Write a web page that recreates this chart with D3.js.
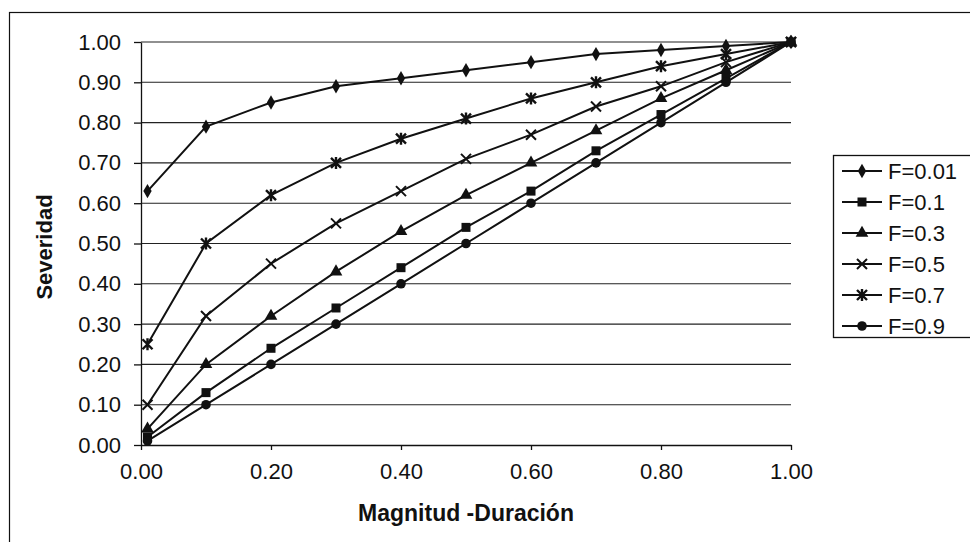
<!DOCTYPE html>
<html><head><meta charset="utf-8">
<script src="https://cdn.jsdelivr.net/npm/d3@7"></script>
<style>body{margin:0;background:#fff}svg{display:block}</style></head>
<body><svg id="c" width="970" height="542"></svg>
<script>
const xValues = [0.01,0.1,0.2,0.3,0.4,0.5,0.6,0.7,0.8,0.9,1.0];
const seriesNames = ["F=0.01","F=0.1","F=0.3","F=0.5","F=0.7","F=0.9"];
const sF001 = [0.63,0.79,0.85,0.89,0.91,0.93,0.95,0.97,0.98,0.99,1.00];
const sF01  = [0.02,0.13,0.24,0.34,0.44,0.54,0.63,0.73,0.82,0.91,1.00];
const sF03  = [0.04,0.20,0.32,0.43,0.53,0.62,0.70,0.78,0.86,0.93,1.00];
const sF05  = [0.10,0.32,0.45,0.55,0.63,0.71,0.77,0.84,0.89,0.95,1.00];
const sF07  = [0.25,0.50,0.62,0.70,0.76,0.81,0.86,0.90,0.94,0.97,1.00];
const sF09  = [0.01,0.10,0.20,0.30,0.40,0.50,0.60,0.70,0.80,0.90,1.00];
const seriesValues = [sF001,sF01,sF03,sF05,sF07,sF09];
const markerTypes = ["diamond","square","triangle","x","star","circle"];
const yTicks = [0,0.1,0.2,0.3,0.4,0.5,0.6,0.7,0.8,0.9,1.0];
const xTicks = [0,0.2,0.4,0.6,0.8,1.0];
const xTitle = "Magnitud -Duración";
const yTitle = "Severidad";

const svg = d3.select("#c");
const FONT = "Liberation Sans, Arial, sans-serif";
const INK = "#111";

// chart border
svg.append("rect").attr("x",9.5).attr("y",12.5).attr("width",1000).attr("height",600)
  .attr("fill","none").attr("stroke",INK).attr("stroke-width",1.2);

const x = d3.scaleLinear().domain([0,1]).range([141,791]);
const y = d3.scaleLinear().domain([0,1]).range([445,42]);

// gridlines
svg.append("g").selectAll("line").data(yTicks.filter(d=>d>0)).join("line")
  .attr("x1",x(0)).attr("x2",x(1)).attr("y1",d=>y(d)).attr("y2",d=>y(d))
  .attr("stroke","#222").attr("stroke-width",1.1);

// axes
const yAxis = svg.append("g").attr("transform",`translate(${x(0)},0)`)
  .call(d3.axisLeft(y).tickValues(yTicks).tickFormat(d3.format(".2f")).tickSize(7).tickSizeOuter(0).tickPadding(13));
const xAxis = svg.append("g").attr("transform",`translate(0,${y(0)})`)
  .call(d3.axisBottom(x).tickValues(xTicks).tickFormat(d3.format(".2f")).tickSize(5).tickSizeOuter(0).tickPadding(13));
[yAxis,xAxis].forEach(g=>{
  g.selectAll("path,line").attr("stroke",INK).attr("stroke-width",1.3);
  g.selectAll("text").attr("font-family",FONT).attr("font-size",22).attr("fill",INK);
});

// titles
svg.append("text").attr("x",(x(0)+x(1))/2).attr("y",521).attr("text-anchor","middle")
  .attr("font-family",FONT).attr("font-weight","bold").attr("font-size",23).attr("fill",INK).text(xTitle);
svg.append("text").attr("transform","translate(52,247) rotate(-90)").attr("text-anchor","middle")
  .attr("font-family",FONT).attr("font-weight","bold").attr("font-size",22).attr("fill",INK).text(yTitle);

function drawMarker(g, type, cx, cy){
  if(type==="diamond"){
    g.append("path").attr("d",d3.symbol(d3.symbolDiamond,60)()).attr("transform",`translate(${cx},${cy})`).attr("fill",INK);
  } else if(type==="square"){
    g.append("rect").attr("x",cx-4.5).attr("y",cy-4.5).attr("width",9).attr("height",9).attr("fill",INK);
  } else if(type==="triangle"){
    g.append("path").attr("d",d3.symbol(d3.symbolTriangle,70)()).attr("transform",`translate(${cx},${cy})`).attr("fill",INK);
  } else if(type==="x"){
    const s=5;
    g.append("path").attr("d",`M${cx-s},${cy-s}L${cx+s},${cy+s}M${cx-s},${cy+s}L${cx+s},${cy-s}`)
      .attr("stroke",INK).attr("stroke-width",2).attr("fill","none");
  } else if(type==="star"){
    const s=5;
    g.append("path").attr("d",`M${cx-s},${cy-s}L${cx+s},${cy+s}M${cx-s},${cy+s}L${cx+s},${cy-s}M${cx},${cy-s-1}L${cx},${cy+s+1}`)
      .attr("stroke",INK).attr("stroke-width",2.4).attr("fill","none");
  } else {
    g.append("circle").attr("cx",cx).attr("cy",cy).attr("r",4.8).attr("fill",INK);
  }
}

const line = d3.line().x(d=>x(d[0])).y(d=>y(d[1]));
seriesValues.forEach((vals,i)=>{
  const pts = xValues.map((xv,j)=>[xv,vals[j]]);
  const g = svg.append("g");
  g.append("path").attr("d",line(pts)).attr("fill","none").attr("stroke",INK).attr("stroke-width",2);
  pts.forEach(p=>drawMarker(g, markerTypes[i], x(p[0]), y(p[1])));
});

// legend
const lg = svg.append("g");
lg.append("rect").attr("x",833.5).attr("y",155.5).attr("width",200).attr("height",182)
  .attr("fill","#fff").attr("stroke",INK).attr("stroke-width",1.3);
seriesNames.forEach((name,i)=>{
  const cy = 171 + i*31;
  lg.append("line").attr("x1",842).attr("x2",882).attr("y1",cy).attr("y2",cy).attr("stroke",INK).attr("stroke-width",2);
  drawMarker(lg, markerTypes[i], 862, cy);
  lg.append("text").attr("x",888).attr("y",cy).attr("dy","0.36em")
    .attr("font-family",FONT).attr("font-size",22).attr("fill",INK).text(name);
});
</script></body></html>
